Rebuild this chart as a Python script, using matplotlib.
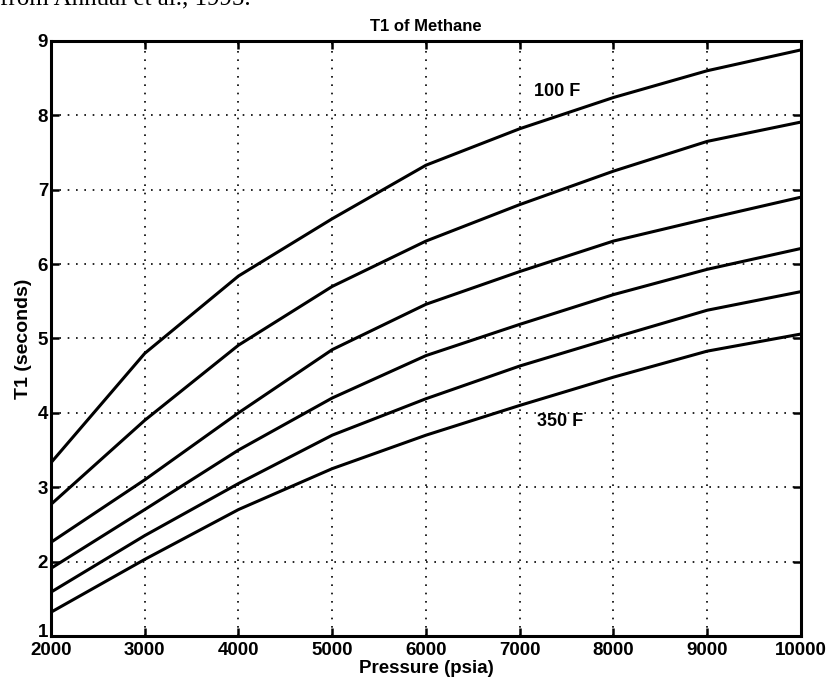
import matplotlib
matplotlib.use("Agg")
import matplotlib.pyplot as plt
from matplotlib.transforms import ScaledTranslation

# Pressure grid (psia) and T1 relaxation times (seconds) for methane
pressure = [2000, 3000, 4000, 5000, 6000, 7000, 8000, 9000, 10000]
t1_100f = [3.33, 4.80, 5.84, 6.61, 7.33, 7.82, 8.24, 8.60, 8.88]
t1_150f = [2.77, 3.90, 4.91, 5.70, 6.31, 6.80, 7.25, 7.65, 7.91]
t1_200f = [2.26, 3.10, 4.00, 4.85, 5.46, 5.90, 6.31, 6.61, 6.90]
t1_250f = [1.91, 2.70, 3.50, 4.20, 4.77, 5.19, 5.59, 5.93, 6.21]
t1_300f = [1.59, 2.35, 3.05, 3.70, 4.19, 4.63, 5.01, 5.38, 5.63]
t1_350f = [1.32, 2.03, 2.70, 3.25, 3.70, 4.10, 4.48, 4.83, 5.06]
curves = [t1_100f, t1_150f, t1_200f, t1_250f, t1_300f, t1_350f]

x_ticks = [2000, 3000, 4000, 5000, 6000, 7000, 8000, 9000, 10000]
y_ticks = [1, 2, 3, 4, 5, 6, 7, 8, 9]

# Curve annotations: (text, pressure, T1)
annotations = [("100 F", 7400, 8.32), ("350 F", 7430, 3.88)]

plt.rcParams["font.family"] = ["Liberation Sans", "DejaVu Sans"]

fig = plt.figure(figsize=(8.32, 6.91), dpi=100)
ax = fig.add_axes([0.0613, 0.0796, 0.9014, 0.8611])

for series in curves:
    ax.plot(pressure, series, color="black", linewidth=2.2,
            solid_joinstyle="round", solid_capstyle="round")

for text, px, py in annotations:
    ax.text(px, py, text, ha="center", va="center", fontsize=13,
            fontweight="bold", color="black")

ax.set_xlim(2000, 10000)
ax.set_ylim(1, 9)
ax.set_xticks(x_ticks)
ax.set_yticks(y_ticks)
ax.set_xticklabels([str(v) for v in x_ticks], fontsize=13.5, fontweight="bold")
ax.set_yticklabels([str(v) for v in y_ticks], fontsize=13.5, fontweight="bold")

ax.grid(True, color="black", linestyle=(0, (1, 4)), linewidth=1.2)
ax.tick_params(axis="x", direction="in", length=6, width=1.8, top=True,
               pad=4)
ax.tick_params(axis="y", direction="in", length=6, width=1.8, right=True,
               pad=2)
for side in ax.spines.values():
    side.set_linewidth(2.2)

# Lift the lowest y label a little so it sits above the first x label
lowest = ax.get_yticklabels()[0]
lowest.set_transform(lowest.get_transform()
                     + ScaledTranslation(0, 5 / 100, fig.dpi_scale_trans))

ax.set_title("T1 of Methane", fontsize=12, fontweight="bold", pad=7)
ax.set_xlabel("Pressure (psia)", fontsize=13.5, fontweight="bold", labelpad=1)
ax.set_ylabel("T1 (seconds)", fontsize=14, fontweight="bold", labelpad=4)

# Caption line from the surrounding page, cut at the top edge
fig.text(0.0, 1.0 - 5 / 691, "from Annual et al., 1995.", ha="left",
         va="baseline", fontsize=18, family="Liberation Serif", color="black")

fig.savefig("out.png", dpi=100)
